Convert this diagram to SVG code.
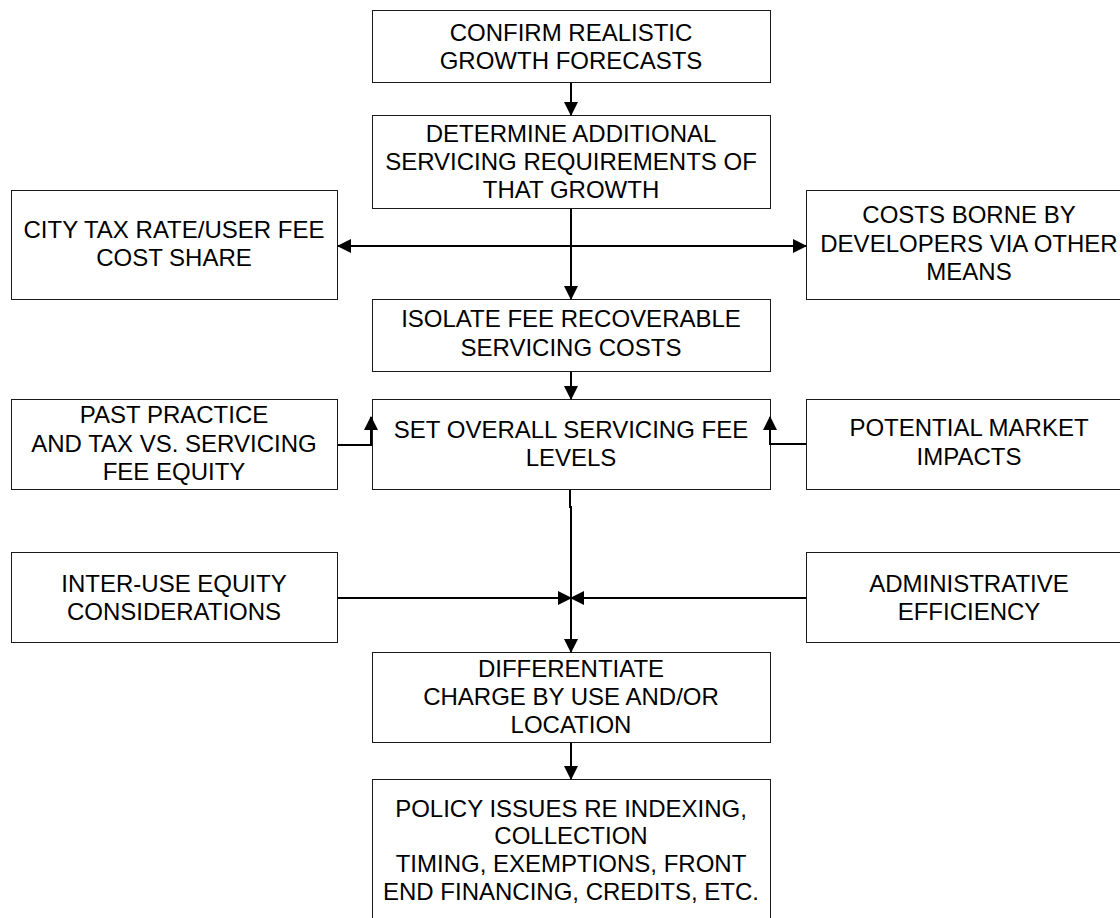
<svg xmlns="http://www.w3.org/2000/svg" width="1120" height="918" viewBox="0 0 1120 918">
<style>
.box{fill:#fff;stroke:#1a1a1a;stroke-width:1}
.t{font-family:"Liberation Sans",Arial,sans-serif;font-size:24px;fill:#000;text-anchor:middle}
.c{fill:none;stroke:#000;stroke-width:2}
</style>
<defs>
<marker id="ah" markerUnits="userSpaceOnUse" markerWidth="14" markerHeight="14" refX="13" refY="7" orient="auto-start-reverse" viewBox="0 0 14 14">
<path d="M0,0 L14,7 L0,14 z" fill="#000"/>
</marker>
</defs>
<rect width="1120" height="918" fill="#fff"/>
<g id="n1"><rect class="box" x="372.5" y="10.5" width="398" height="72"/>
<text class="t" x="571" y="41">CONFIRM REALISTIC</text><text class="t" x="571" y="69">GROWTH FORECASTS</text></g>
<g id="n2"><rect class="box" x="372.5" y="115.5" width="398" height="93"/>
<text class="t" x="571" y="142">DETERMINE ADDITIONAL</text><text class="t" x="571" y="170">SERVICING REQUIREMENTS OF</text><text class="t" x="571" y="198">THAT GROWTH</text></g>
<g id="n3"><rect class="box" x="11.5" y="190.5" width="326" height="109"/>
<text class="t" x="174" y="238">CITY TAX RATE/USER FEE</text><text class="t" x="174" y="266">COST SHARE</text></g>
<g id="n4"><rect class="box" x="806.5" y="190.5" width="326" height="109"/>
<text class="t" x="969" y="223">COSTS BORNE BY</text><text class="t" x="969" y="252">DEVELOPERS VIA OTHER</text><text class="t" x="969" y="280">MEANS</text></g>
<g id="n5"><rect class="box" x="372.5" y="299.5" width="398" height="72"/>
<text class="t" x="571" y="327">ISOLATE FEE RECOVERABLE</text><text class="t" x="571" y="356">SERVICING COSTS</text></g>
<g id="n6"><rect class="box" x="372.5" y="399.5" width="398" height="90"/>
<text class="t" x="571" y="438">SET OVERALL SERVICING FEE</text><text class="t" x="571" y="466">LEVELS</text></g>
<g id="n7"><rect class="box" x="11.5" y="399.5" width="326" height="90"/>
<text class="t" x="174" y="423">PAST PRACTICE</text><text class="t" x="174" y="452">AND TAX VS. SERVICING</text><text class="t" x="174" y="480">FEE EQUITY</text></g>
<g id="n8"><rect class="box" x="806.5" y="399.5" width="326" height="90"/>
<text class="t" x="969" y="436">POTENTIAL MARKET</text><text class="t" x="969" y="465">IMPACTS</text></g>
<g id="n9"><rect class="box" x="11.5" y="552.5" width="326" height="90"/>
<text class="t" x="174" y="592">INTER-USE EQUITY</text><text class="t" x="174" y="620">CONSIDERATIONS</text></g>
<g id="n10"><rect class="box" x="806.5" y="552.5" width="326" height="90"/>
<text class="t" x="969" y="592">ADMINISTRATIVE</text><text class="t" x="969" y="620">EFFICIENCY</text></g>
<g id="n11"><rect class="box" x="372.5" y="652.5" width="398" height="90"/>
<text class="t" x="571" y="677">DIFFERENTIATE</text><text class="t" x="571" y="705">CHARGE BY USE AND/OR</text><text class="t" x="571" y="733">LOCATION</text></g>
<g id="n12"><rect class="box" x="372.5" y="779.5" width="398" height="160"/>
<text class="t" x="571" y="817">POLICY ISSUES RE INDEXING,</text><text class="t" x="571" y="844">COLLECTION</text><text class="t" x="571" y="872">TIMING, EXEMPTIONS, FRONT</text><text class="t" x="571" y="900">END FINANCING, CREDITS, ETC.</text></g>
<g id="connectors">
<line class="c" x1="571" y1="83" x2="571" y2="115" marker-end="url(#ah)"/>
<line class="c" x1="571" y1="209" x2="571" y2="299" marker-end="url(#ah)"/>
<line class="c" x1="338" y1="246" x2="806" y2="246" marker-start="url(#ah)" marker-end="url(#ah)"/>
<line class="c" x1="571" y1="372" x2="571" y2="399" marker-end="url(#ah)"/>
<polyline class="c" points="338,445 371,445 371,417" marker-end="url(#ah)"/>
<polyline class="c" points="806,444 770,444 770,417" marker-end="url(#ah)"/>
<polyline class="c" points="570,490 570,507 571,507 571,652" marker-end="url(#ah)"/>
<line class="c" x1="338" y1="598" x2="571" y2="598" marker-end="url(#ah)"/>
<line class="c" x1="806" y1="598" x2="571" y2="598" marker-end="url(#ah)"/>
<line class="c" x1="571" y1="743" x2="571" y2="779" marker-end="url(#ah)"/>
</g>
</svg>
